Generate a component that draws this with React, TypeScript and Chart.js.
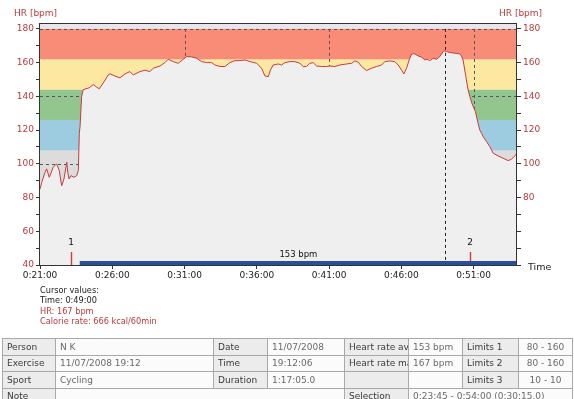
import React, { useEffect, useRef } from 'react';
import { Chart, registerables } from 'chart.js';
Chart.register(...registerables);

// Heart rate samples: time (minutes since 0:00:00) and HR (bpm)
const hrMinutes = [
  21.0, 21.12, 21.35, 21.46, 21.64, 21.92, 22.15, 22.33, 22.5, 22.66, 22.85, 22.92, 23.01, 23.14, 23.35, 23.54, 23.65,
  23.72, 23.77, 23.88, 23.99, 24.18, 24.39, 24.69, 24.92, 25.1, 25.38, 25.72, 25.84, 26.19, 26.53, 26.88, 27.22, 27.45,
  27.92, 28.26, 28.61, 28.84, 29.3, 29.64, 29.87, 30.22, 30.56, 30.91, 31.15, 31.49, 31.84, 32.18, 32.53, 32.87, 33.1,
  33.45, 33.79, 34.14, 34.49, 34.83, 35.18, 35.52, 35.99, 36.33, 36.56, 36.79, 36.95, 37.13, 37.48, 37.71, 37.94, 38.29,
  38.63, 38.98, 39.21, 39.44, 39.67, 39.9, 40.14, 40.48, 40.83, 41.06, 41.4, 41.75, 42.21, 42.56, 42.78, 43.01, 43.25,
  43.59, 43.94, 44.29, 44.63, 44.86, 45.2, 45.55, 45.78, 46.01, 46.17, 46.36, 46.54, 46.71, 46.93, 47.16, 47.4, 47.63,
  47.78, 47.97, 48.2, 48.43, 48.66, 48.89, 49.0, 49.13, 49.35, 49.7, 50.05, 50.16, 50.27, 50.46, 50.62, 50.74, 50.88,
  51.12, 51.31, 51.43, 51.55, 51.66, 51.89, 52.12, 52.35, 52.69, 53.04, 53.39, 53.62, 53.85, 54.0,
];
const hrValues = [
  85, 89, 95, 97, 92, 98, 100, 96, 87, 91, 101, 95, 91, 93, 92, 93, 96,
  118, 122, 140, 144, 144.5, 145, 147, 145.5, 144.5, 148, 152.7, 153.4, 152, 151, 153.3, 154.7, 152.7,
  154.7, 155.5, 154.7, 156.7, 158, 160, 162, 160.6, 159.6, 162, 163.6, 163.4, 162.6, 160.6, 160, 160, 158.6,
  157.7, 157.7, 160, 161.2, 161.2, 161.6, 160.6, 159.6, 156.7, 152.1, 151.7, 155.7, 158.6, 159.2, 158.6, 160, 160.6,
  160.6, 159.6, 157.7, 157.7, 159.6, 160, 158, 157.7, 157.7, 158, 157.7, 158.6, 159.2, 159.6, 161, 160.3, 157.7,
  155.3, 156.7, 157.7, 158.6, 160.6, 161, 160.6, 158.6, 155.7, 153.3, 156.7, 161.6, 165.2, 165.2, 164, 163.2, 161.6,
  162, 161.2, 162.6, 162, 163.6, 166.5, 167, 166.5, 166, 165.6, 165.2, 164, 161.6, 151.7, 143.8, 139.8, 135.9,
  131, 124, 120, 118, 116, 113.2, 110.2, 106.3, 104.7, 103.3, 101.9, 102.7, 104.7, 106.3,
];

const xMin = 21;
const xMax = 54;
const xTickMinutes = [21, 26, 31, 36, 41, 46, 51];
const yTickValues = [40, 50, 60, 70, 80, 90, 100, 110, 120, 130, 140, 150, 160, 170, 180];
const yMin = 40;
const yMax = 183.5;
const gridMinutes = [31, 41, 51];
const gridHr = [180, 140, 100, 60];
const zoneBounds = [90, 108, 126, 144, 162, 180];
const zoneColors = ['#dcdcdc', '#9dcce0', '#93c68e', '#fde8a2', '#f98c76'];
const cursorMinute = 49;
const selectionStart = 23.75;
const selectionLabel = '153 bpm';
const markerMinutes = [23.14, 50.74];
const markerLabels = ['1', '2'];

const cursorLines = ['Cursor values:', 'Time: 0:49:00', 'HR: 167 bpm', 'Calorie rate: 666 kcal/60min'];
const cursorColors = ['#222', '#222', '#b73a3a', '#b73a3a'];

const row1 = ['Person', 'N K', 'Date', '11/07/2008', 'Heart rate average', '153 bpm', 'Limits 1', '80 - 160'];
const row2 = ['Exercise', '11/07/2008 19:12', 'Time', '19:12:06', 'Heart rate maximum', '167 bpm', 'Limits 2', '80 - 160'];
const row3 = ['Sport', 'Cycling', 'Duration', '1:17:05.0', '', '', 'Limits 3', '10 - 10'];
const row4Note = 'Note';
const row4Selection = 'Selection';
const row4SelectionValue = '0:23:45 - 0:54:00 (0:30:15.0)';
const colWidths = [53, 158, 54, 77, 64, 54, 56, 54];

const FONT = 'DejaVu Sans';
const RED = '#b73a3a';

function fmtMin(v: number) {
  const m = Math.floor(v);
  return `0:${String(m).padStart(2, '0')}:00`;
}

const overlayPlugin = {
  id: 'hrOverlay',
  beforeDatasetsDraw(chart: any) {
    const { ctx, chartArea: a, scales } = chart;
    const x = scales.x;
    const y = scales.y;
    ctx.save();
    ctx.fillStyle = '#e6e6ec';
    ctx.fillRect(a.left, a.top, a.right - a.left, a.bottom - a.top);
    for (let i = 0; i < zoneColors.length; i++) {
      const yt = y.getPixelForValue(zoneBounds[i + 1]);
      const yb = y.getPixelForValue(zoneBounds[i]);
      ctx.fillStyle = zoneColors[i];
      ctx.fillRect(a.left, yt, a.right - a.left, yb - yt);
    }
    ctx.strokeStyle = '#555';
    ctx.lineWidth = 1;
    ctx.setLineDash([3, 3]);
    for (const v of gridHr) {
      const py = Math.round(y.getPixelForValue(v)) + 0.5;
      ctx.beginPath();
      ctx.moveTo(a.left, py);
      ctx.lineTo(a.right, py);
      ctx.stroke();
    }
    const top = y.getPixelForValue(180);
    for (const m of gridMinutes) {
      const px = Math.round(x.getPixelForValue(m)) + 0.5;
      ctx.beginPath();
      ctx.moveTo(px, top);
      ctx.lineTo(px, a.bottom);
      ctx.stroke();
    }
    ctx.restore();
  },
  afterDatasetsDraw(chart: any) {
    const { ctx, chartArea: a, scales } = chart;
    const x = scales.x;
    const y = scales.y;
    ctx.save();
    // cursor line
    ctx.strokeStyle = '#222';
    ctx.lineWidth = 1;
    ctx.setLineDash([3, 3]);
    const cx = Math.round(x.getPixelForValue(cursorMinute)) + 0.5;
    ctx.beginPath();
    ctx.moveTo(cx, y.getPixelForValue(180));
    ctx.lineTo(cx, a.bottom - 4);
    ctx.stroke();
    ctx.setLineDash([]);
    // markers
    ctx.font = `9px "${FONT}"`;
    ctx.textAlign = 'center';
    ctx.textBaseline = 'middle';
    markerMinutes.forEach((m, i) => {
      const mx = Math.round(x.getPixelForValue(m)) + 0.5;
      ctx.strokeStyle = 'rgba(245,170,170,0.6)';
      ctx.lineWidth = 3;
      ctx.beginPath();
      ctx.moveTo(mx, a.bottom - 13);
      ctx.lineTo(mx, a.bottom);
      ctx.stroke();
      ctx.strokeStyle = '#d04040';
      ctx.lineWidth = 1;
      ctx.beginPath();
      ctx.moveTo(mx, a.bottom - 13);
      ctx.lineTo(mx, a.bottom);
      ctx.stroke();
      ctx.fillStyle = '#111';
      ctx.fillText(markerLabels[i], mx - 0.5, a.bottom - 22);
    });
    // selection bar
    const sx = x.getPixelForValue(selectionStart);
    ctx.fillStyle = '#2a4e9e';
    ctx.fillRect(sx, a.bottom - 4, a.right - sx, 4);
    ctx.fillStyle = '#111';
    ctx.font = `8.5px "${FONT}"`;
    ctx.fillText(selectionLabel, (sx + a.right) / 2, a.bottom - 10);
    ctx.restore();
  },
  afterDraw(chart: any) {
    const { ctx, chartArea: a } = chart;
    ctx.save();
    ctx.strokeStyle = '#333';
    ctx.lineWidth = 1;
    ctx.strokeRect(Math.round(a.left) - 0.5, Math.round(a.top) + 0.5, Math.round(a.right - a.left), Math.round(a.bottom - a.top));
    ctx.font = `9px "${FONT}"`;
    ctx.textBaseline = 'middle';
    ctx.fillStyle = RED;
    ctx.textAlign = 'left';
    ctx.fillText('HR [bpm]', 14, 14);
    ctx.fillText('HR [bpm]', 499, 14);
    ctx.fillStyle = '#222';
    ctx.font = `9.5px "${FONT}"`;
    ctx.fillText('Time', 528, a.bottom + 3);
    ctx.restore();
  },
};

function yAxis(position: 'left' | 'right', width: number, showLabel: (v: number) => boolean) {
  return {
    type: 'linear',
    position,
    min: yMin,
    max: yMax,
    afterBuildTicks: (s: any) => {
      s.ticks = yTickValues.map((v) => ({ value: v }));
    },
    afterFit: (s: any) => {
      s.width = width;
    },
    grid: { drawOnChartArea: false, drawTicks: true, tickLength: 4, color: '#333', lineWidth: 1 },
    border: { display: false },
    ticks: {
      color: RED,
      font: { family: FONT, size: 9 },
      padding: 2,
      autoSkip: false,
      callback: (v: any) => (showLabel(Number(v)) ? String(v) : ''),
    },
  };
}

function HrChart() {
  const ref = useRef<HTMLCanvasElement | null>(null);
  useEffect(() => {
    if (!ref.current) return;
    const chart = new Chart(ref.current, {
      type: 'line',
      data: {
        datasets: [
          {
            data: hrMinutes.map((m, i) => ({ x: m, y: hrValues[i] })),
            borderColor: '#c63c3e',
            borderWidth: 1,
            backgroundColor: '#efefef',
            fill: 'start',
            pointRadius: 0,
            tension: 0,
          },
        ],
      },
      options: {
        animation: false,
        responsive: false,
        maintainAspectRatio: false,
        events: [],
        layout: { padding: { top: 23, left: 0, right: 0, bottom: 0 } },
        plugins: { legend: { display: false }, tooltip: { enabled: false } },
        scales: {
          x: {
            type: 'linear',
            min: xMin,
            max: xMax,
            afterBuildTicks: (s: any) => {
              s.ticks = xTickMinutes.map((v) => ({ value: v }));
            },
            afterFit: (s: any) => {
              s.height = 73;
            },
            grid: { drawOnChartArea: false, tickLength: 4, color: '#333', lineWidth: 1 },
            border: { display: false },
            ticks: {
              color: '#222',
              font: { family: FONT, size: 9 },
              padding: 1,
              maxRotation: 0,
              autoSkip: false,
              callback: (v: any) => fmtMin(Number(v)),
            },
          },
          y: yAxis('left', 40, (v) => v % 20 === 0),
          y2: yAxis('right', 57, (v) => v % 20 === 0 && v >= 80),
        } as any,
      },
      plugins: [overlayPlugin],
    } as any);
    return () => chart.destroy();
  }, []);
  return <canvas ref={ref} width={574} height={338} style={{ position: 'absolute', left: 0, top: 0, width: 574, height: 338 }} />;
}

const labelCell: React.CSSProperties = {
  border: '1px solid #a9a9a9',
  background: '#ececec',
  color: '#3a3a3a',
  padding: '0 4px',
  whiteSpace: 'nowrap',
  overflow: 'hidden',
  textOverflow: 'clip',
};
const valueCell: React.CSSProperties = { ...labelCell, background: '#fbfbfb', color: '#6a6a6a' };

function Row({ cells }: { cells: string[] }) {
  return (
    <tr style={{ height: 16.5 }}>
      {cells.map((c, i) => (
        <td key={i} style={{ ...(i % 2 === 0 ? labelCell : valueCell), textAlign: i === 7 ? 'center' : 'left' }}>
          {c}
        </td>
      ))}
    </tr>
  );
}

export default function App() {
  return (
    <div style={{ position: 'fixed', left: 0, top: 0, width: 574, height: 399, background: '#fff', overflow: 'hidden', fontFamily: FONT }}>
      <HrChart />
      <div style={{ position: 'absolute', left: 40, top: 284.5, fontSize: 8.2, lineHeight: '10.5px' }}>
        {cursorLines.map((t, i) => (
          <div key={i} style={{ color: cursorColors[i], whiteSpace: 'nowrap' }}>
            {t}
          </div>
        ))}
      </div>
      <table
        style={{
          position: 'absolute',
          left: 2,
          top: 338,
          width: 570,
          tableLayout: 'fixed',
          borderCollapse: 'collapse',
          fontSize: 9,
          fontFamily: FONT,
          lineHeight: '12px',
        }}
      >
        <colgroup>
          {colWidths.map((w, i) => (
            <col key={i} style={{ width: w }} />
          ))}
        </colgroup>
        <tbody>
          <Row cells={row1} />
          <Row cells={row2} />
          <Row cells={row3} />
          <tr style={{ height: 16.5 }}>
            <td style={labelCell}>{row4Note}</td>
            <td style={valueCell} colSpan={3}></td>
            <td style={labelCell}>{row4Selection}</td>
            <td style={valueCell} colSpan={3}>
              {row4SelectionValue}
            </td>
          </tr>
        </tbody>
      </table>
    </div>
  );
}
